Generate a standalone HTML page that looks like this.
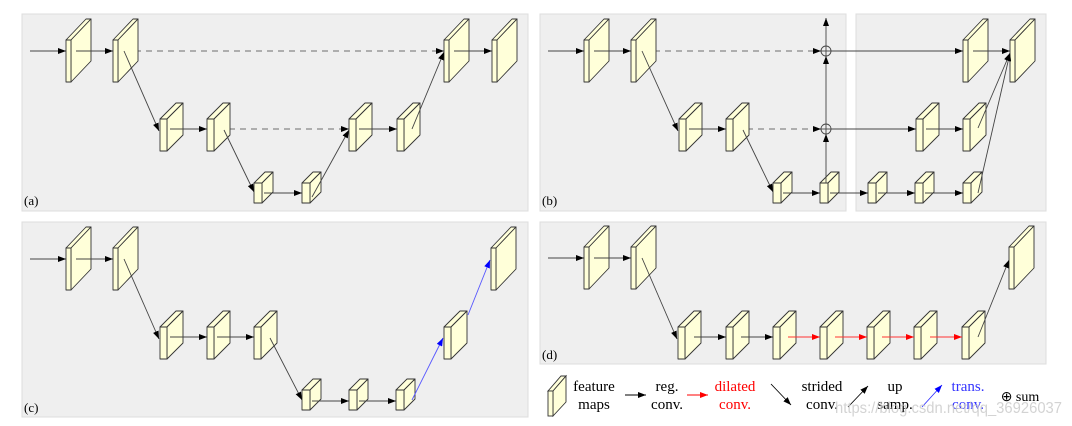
<!DOCTYPE html>
<html><head><meta charset="utf-8"><style>
html,body{margin:0;padding:0;background:#fff;width:1072px;height:426px;overflow:hidden}
text{font-family:"Liberation Serif",serif}
</style></head><body>
<svg width="1072" height="426" viewBox="0 0 1072 426" xmlns="http://www.w3.org/2000/svg">
<defs>
<marker id="ak" markerWidth="8" markerHeight="6" refX="8" refY="3" orient="auto" markerUnits="userSpaceOnUse"><path d="M0,0L8,3L0,6Z" fill="#000"/></marker>
<marker id="ar" markerWidth="8" markerHeight="6" refX="8" refY="3" orient="auto" markerUnits="userSpaceOnUse"><path d="M0,0L8,3L0,6Z" fill="#f00"/></marker>
<marker id="ab" markerWidth="8" markerHeight="6" refX="8" refY="3" orient="auto" markerUnits="userSpaceOnUse"><path d="M0,0L8,3L0,6Z" fill="#00f"/></marker>
<g id="L" stroke="#333" stroke-width="0.9" fill="#ffffd9" stroke-linejoin="round">
<path d="M0,0L5,0L25,-21L20,-21Z"/><path d="M5,0L25,-21L25,21L5,42Z"/><rect x="0" y="0" width="5" height="42"/></g>
<g id="M" stroke="#333" stroke-width="0.9" fill="#ffffd9" stroke-linejoin="round">
<path d="M0,0L7,0L23,-16L16,-16Z"/><path d="M7,0L23,-16L23,16L7,32Z"/><rect x="0" y="0" width="7" height="32"/></g>
<g id="S" stroke="#333" stroke-width="0.9" fill="#ffffd9" stroke-linejoin="round">
<path d="M0,0L8,0L19,-11L11,-11Z"/><path d="M8,0L19,-11L19,9L8,20Z"/><rect x="0" y="0" width="8" height="20"/></g>
</defs>
<g fill="#efefef" stroke="#ddd" stroke-width="1">
<rect x="22" y="14" width="506" height="197"/>
<rect x="540" y="14" width="306" height="197"/>
<rect x="856" y="14" width="190" height="197"/>
<rect x="22" y="222" width="506" height="195"/>
<rect x="540" y="222" width="506" height="142"/>
</g>
<g font-size="13">
<text x="24" y="205">(a)</text><text x="542" y="205">(b)</text>
<text x="24" y="412">(c)</text><text x="542" y="359">(d)</text>
</g>

<!-- (a) -->
<g stroke="#888" stroke-width="1.2" stroke-dasharray="6,5" fill="none">
<line x1="124" y1="51" x2="440" y2="51"/><line x1="218" y1="129" x2="343" y2="129"/>
</g>
<use href="#L" x="66" y="40"/><use href="#L" x="113" y="40"/>
<use href="#M" x="160" y="119"/><use href="#M" x="207" y="119"/>
<use href="#S" x="254" y="183"/><use href="#S" x="302" y="183"/>
<use href="#M" x="349" y="119"/><use href="#M" x="397" y="119"/>
<use href="#L" x="444" y="40"/><use href="#L" x="492" y="40"/>
<g stroke="#444" stroke-width="0.9" fill="none" marker-end="url(#ak)">
<line x1="30" y1="51" x2="66" y2="51"/><line x1="76" y1="51" x2="113" y2="51"/>
<line x1="124" y1="51" x2="159" y2="131"/><line x1="170" y1="129" x2="207" y2="129"/>
<line x1="224" y1="130" x2="254" y2="192"/><line x1="264" y1="193" x2="302" y2="193"/>
<line x1="312" y1="197" x2="349" y2="130"/><line x1="359" y1="129" x2="397" y2="129"/>
<line x1="412" y1="129" x2="444" y2="52"/><line x1="454" y1="51" x2="492" y2="51"/>
<line x1="440" y1="51" x2="444" y2="51"/><line x1="343" y1="129" x2="349" y2="129"/>
</g>

<!-- (b) -->
<g stroke="#888" stroke-width="1.2" stroke-dasharray="6,5" fill="none">
<line x1="643" y1="51" x2="814" y2="51"/><line x1="736" y1="129" x2="814" y2="129"/>
</g>
<use href="#L" x="584" y="40"/><use href="#L" x="631" y="40"/>
<use href="#M" x="679" y="119"/><use href="#M" x="726" y="119"/>
<use href="#S" x="773" y="183"/><use href="#S" x="820" y="183"/>
<use href="#M" x="916" y="119"/><use href="#M" x="963" y="119"/>
<use href="#L" x="963" y="40"/><use href="#L" x="1010" y="40"/>
<use href="#S" x="868" y="183"/><use href="#S" x="915" y="183"/><use href="#S" x="963" y="183"/>
<g stroke="#444" stroke-width="0.9" fill="none">
<circle cx="826" cy="51" r="5"/><circle cx="826" cy="129" r="5"/>
<line x1="821" y1="51" x2="831" y2="51"/><line x1="821" y1="129" x2="831" y2="129"/>
<line x1="826" y1="46" x2="826" y2="18" marker-end="url(#ak)"/>
<line x1="826" y1="183" x2="826" y2="134" marker-end="url(#ak)"/>
<line x1="826" y1="124" x2="826" y2="56" marker-end="url(#ak)"/>
<line x1="826" y1="46" x2="826" y2="56"/><line x1="826" y1="124" x2="826" y2="134"/>
</g>
<g stroke="#444" stroke-width="0.9" fill="none" marker-end="url(#ak)">
<line x1="548" y1="51" x2="584" y2="51"/><line x1="594" y1="51" x2="631" y2="51"/>
<line x1="642" y1="51" x2="678" y2="131"/><line x1="689" y1="129" x2="726" y2="129"/>
<line x1="743" y1="130" x2="773" y2="192"/><line x1="783" y1="193" x2="820" y2="193"/>
<line x1="814" y1="51" x2="821" y2="51"/><line x1="814" y1="129" x2="821" y2="129"/>
<line x1="831" y1="51" x2="963" y2="51"/><line x1="973" y1="51" x2="1010" y2="51"/>
<line x1="831" y1="129" x2="916" y2="129"/><line x1="926" y1="129" x2="963" y2="129"/>
<line x1="830" y1="193" x2="868" y2="193"/><line x1="878" y1="193" x2="915" y2="193"/><line x1="925" y1="193" x2="963" y2="193"/>
<line x1="978" y1="128" x2="1010" y2="53"/><line x1="978" y1="193" x2="1010" y2="53"/>
</g>

<!-- (c) -->
<use href="#L" x="66" y="248"/><use href="#L" x="113" y="248"/>
<use href="#M" x="160" y="327"/><use href="#M" x="207" y="327"/><use href="#M" x="254" y="327"/>
<use href="#S" x="302" y="390"/><use href="#S" x="349" y="390"/><use href="#S" x="396" y="390"/>
<use href="#M" x="444" y="327"/><use href="#L" x="491" y="248"/>
<g stroke="#444" stroke-width="0.9" fill="none" marker-end="url(#ak)">
<line x1="30" y1="259" x2="66" y2="259"/><line x1="76" y1="259" x2="113" y2="259"/>
<line x1="124" y1="259" x2="159" y2="339"/><line x1="170" y1="337" x2="207" y2="337"/>
<line x1="217" y1="337" x2="254" y2="337"/><line x1="270" y1="338" x2="302" y2="400"/>
<line x1="312" y1="401" x2="349" y2="401"/><line x1="359" y1="401" x2="396" y2="401"/>
</g>
<g stroke="#55f" stroke-width="0.9" fill="none" marker-end="url(#ab)">
<line x1="412" y1="400" x2="443" y2="338"/><line x1="468" y1="315" x2="490" y2="260"/>
</g>

<!-- (d) -->
<use href="#L" x="584" y="247"/><use href="#L" x="631" y="247"/>
<use href="#M" x="678" y="327"/><use href="#M" x="726" y="327"/><use href="#M" x="773" y="327"/>
<use href="#M" x="820" y="327"/><use href="#M" x="867" y="327"/><use href="#M" x="914" y="327"/>
<use href="#M" x="962" y="327"/><use href="#L" x="1009" y="247"/>
<g stroke="#444" stroke-width="0.9" fill="none" marker-end="url(#ak)">
<line x1="548" y1="258" x2="584" y2="258"/><line x1="594" y1="258" x2="631" y2="258"/>
<line x1="642" y1="258" x2="677" y2="339"/>
<line x1="694" y1="337" x2="726" y2="337"/><line x1="741" y1="337" x2="773" y2="337"/>
<line x1="978" y1="337" x2="1009" y2="260"/>
</g>
<g stroke="#f33" stroke-width="0.9" fill="none" marker-end="url(#ar)">
<line x1="788" y1="337" x2="820" y2="337"/><line x1="835" y1="337" x2="867" y2="337"/>
<line x1="882" y1="337" x2="914" y2="337"/><line x1="930" y1="337" x2="962" y2="337"/>
</g>

<!-- legend -->
<g stroke="#333" stroke-width="0.9" fill="#ffffd9">
<path d="M548,391L553,391L566,376L561,376Z"/><path d="M553,391L566,376L566,402L553,416Z"/><rect x="548" y="391" width="5" height="25"/>
</g>
<g font-size="15" text-anchor="middle">
<text x="594" y="391">feature</text><text x="594" y="409">maps</text>
<text x="667" y="391">reg.</text><text x="667" y="409">conv.</text>
<text x="735" y="391" fill="#f00">dilated</text><text x="735" y="409" fill="#f00">conv.</text>
<text x="822" y="391">strided</text><text x="822" y="409">conv.</text>
<text x="895" y="391">up</text><text x="895" y="409">samp.</text>
<text x="968" y="391" fill="#33f">trans.</text><text x="968" y="409" fill="#33f">conv.</text>
<text x="1020" y="401" font-size="14">⊕ sum</text>
</g>
<g stroke="#000" stroke-width="0.9" fill="none" marker-end="url(#ak)">
<line x1="625" y1="395" x2="646" y2="395"/>
<line x1="771" y1="384" x2="791" y2="405"/>
<line x1="848" y1="407" x2="868" y2="386"/>
</g>
<line x1="687" y1="395" x2="708" y2="395" stroke="#f00" stroke-width="0.9" marker-end="url(#ar)"/>
<line x1="922" y1="407" x2="942" y2="385" stroke="#33f" stroke-width="0.9" marker-end="url(#ab)"/>
<text x="835" y="413" font-size="16" fill="#ccc" style="font-family:'Liberation Sans',sans-serif" opacity="0.85" textLength="227" lengthAdjust="spacingAndGlyphs">https://blog.csdn.net/qq_36926037</text>
</svg>
</body></html>
